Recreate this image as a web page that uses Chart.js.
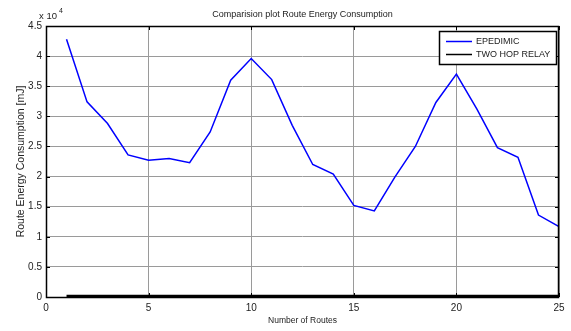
<!DOCTYPE html>
<html>
<head>
<meta charset="utf-8">
<script src="https://cdn.jsdelivr.net/npm/chart.js@4.4.1/dist/chart.umd.min.js"></script>
<style>
  html, body { margin: 0; padding: 0; background: #fff; }
  #wrap { width: 571px; height: 331px; position: relative; }
</style>
</head>
<body>
<div id="wrap"><canvas id="c" width="571" height="331"></canvas></div>
<script>
// data
const routes = [1, 2, 3, 4, 5, 6, 7, 8, 9, 10, 11, 12, 13, 14, 15, 16, 17, 18, 19, 20, 21, 22, 23, 24, 25];
const epidemic = [42800, 32400, 28800, 23600, 22700, 23000, 22300, 27400, 36000, 39600,
                  36100, 28500, 22000, 20400, 15200, 14300, 19900, 25000, 32300, 37000,
                  31200, 24800, 23200, 13600, 11700];
const twoHop = [150, 150, 150, 150, 150, 150, 150, 150, 150, 150,
                150, 150, 150, 150, 150, 150, 150, 150, 150, 150,
                150, 150, 150, 150, 150];
const xTicks = [0, 5, 10, 15, 20, 25];
const yTicks = [0, 5000, 10000, 15000, 20000, 25000, 30000, 35000, 40000, 45000];

const FONT = 'Liberation Sans, Arial, sans-serif';
const pts = (ys) => routes.map((x, i) => ({ x, y: ys[i] }));

// frame, inner tick marks, title, exponent and legend box (MATLAB look)
const decor = {
  id: 'decor',
  afterDraw(chart) {
    const { ctx, chartArea: a, scales } = chart;
    ctx.save();
    ctx.strokeStyle = '#000';
    ctx.lineWidth = 1;
    // inner tick marks
    ctx.beginPath();
    xTicks.forEach((t) => {
      const px = Math.round(scales.x.getPixelForValue(t)) + 0.5;
      ctx.moveTo(px, a.bottom); ctx.lineTo(px, a.bottom - 4);
      ctx.moveTo(px, a.top); ctx.lineTo(px, a.top + 4);
    });
    yTicks.forEach((t) => {
      const py = Math.round(scales.y.getPixelForValue(t)) + 0.5;
      ctx.moveTo(a.left, py); ctx.lineTo(a.left + 4, py);
      ctx.moveTo(a.right, py); ctx.lineTo(a.right - 4, py);
    });
    ctx.stroke();
    // box
    ctx.lineWidth = 1.5;
    ctx.strokeRect(a.left + 0.5, a.top + 0.5, a.right - a.left - 1, a.bottom - a.top);

    // title
    ctx.fillStyle = '#222';
    ctx.font = '9px ' + FONT;
    ctx.textAlign = 'center';
    ctx.textBaseline = 'middle';
    ctx.fillText('Comparision plot Route Energy Consumption', (a.left + a.right) / 2, 15);

    // x 10^4
    ctx.textAlign = 'left';
    ctx.font = '9.5px ' + FONT;
    ctx.fillText('x 10', 39, 16);
    ctx.font = '7px ' + FONT;
    ctx.fillText('4', 59, 11);

    // legend
    const lx = 439, ly = 31, lw = 117, lh = 33;
    ctx.fillStyle = '#fff';
    ctx.fillRect(lx, ly, lw, lh);
    ctx.lineWidth = 1.5;
    ctx.strokeStyle = '#000';
    ctx.strokeRect(lx + 0.5, ly + 0.5, lw, lh);
    const rows = [['EPEDIMIC', '#0000ff', 41.5], ['TWO HOP RELAY', '#000', 54.5]];
    ctx.font = '9px ' + FONT;
    rows.forEach(([label, color, y]) => {
      ctx.strokeStyle = color;
      ctx.lineWidth = 1.5;
      ctx.beginPath();
      ctx.moveTo(446, y); ctx.lineTo(472, y);
      ctx.stroke();
      ctx.fillStyle = '#222';
      ctx.fillText(label, 476, y + 0.5);
    });
    ctx.restore();
  }
};

new Chart(document.getElementById('c'), {
  type: 'scatter',
  data: {
    datasets: [
      {
        label: 'EPEDIMIC',
        data: pts(epidemic),
        showLine: true,
        borderColor: '#0000ff',
        borderWidth: 1.5,
        pointRadius: 0,
        tension: 0
      },
      {
        label: 'TWO HOP RELAY',
        data: pts(twoHop),
        showLine: true,
        borderColor: '#000',
        borderWidth: 2.5,
        pointRadius: 0,
        tension: 0
      }
    ]
  },
  options: {
    responsive: false,
    animation: false,
    layout: { padding: { top: 26, right: 12, left: 15, bottom: 0 } },
    plugins: { legend: { display: false }, tooltip: { enabled: false }, title: { display: false } },
    scales: {
      x: {
        type: 'linear',
        min: 0, max: 25,
        afterFit: (s) => { s.height = 34; },
        afterBuildTicks: (s) => { s.ticks = xTicks.map((v) => ({ value: v })); },
        grid: { color: '#9a9a9a', lineWidth: 1, drawTicks: false },
        border: { display: false },
        ticks: { color: '#222', font: { family: FONT, size: 10 }, padding: 5, maxRotation: 0 },
        title: { display: true, text: 'Number of Routes', color: '#222', font: { family: FONT, size: 8.5 }, padding: { top: 0, bottom: 5 } }
      },
      y: {
        type: 'linear',
        min: 0, max: 45000,
        afterFit: (s) => { s.width = 31; },
        afterBuildTicks: (s) => { s.ticks = yTicks.map((v) => ({ value: v })); },
        grid: { color: '#9a9a9a', lineWidth: 1, drawTicks: false },
        border: { display: false },
        ticks: {
          color: '#222', font: { family: FONT, size: 10 }, padding: 4,
          callback: (v) => String(v / 10000)
        },
        title: { display: true, text: 'Route Energy Consumption [mJ]', color: '#222', font: { family: FONT, size: 10.5 }, padding: { top: 0, bottom: 0 } }
      }
    }
  },
  plugins: [decor]
});
</script>
</body>
</html>
